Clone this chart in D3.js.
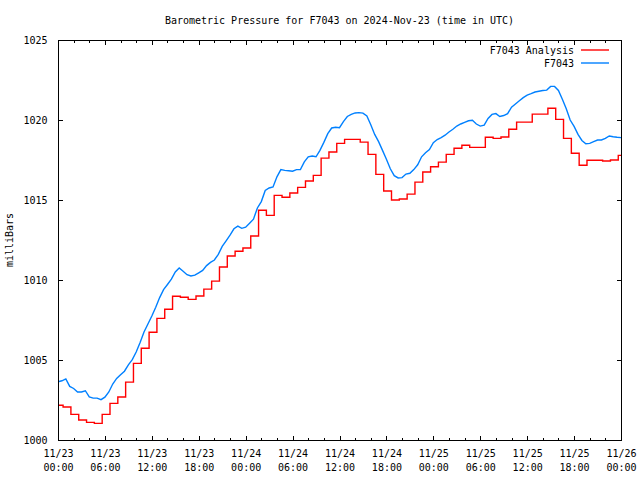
<!DOCTYPE html>
<html>
<head>
<meta charset="utf-8">
<script src="https://cdn.jsdelivr.net/npm/d3@7"></script>
<style>
  html, body { margin: 0; padding: 0; background: #fff; }
  svg { display: block; }
  text { font-family: "DejaVu Sans Mono", "Liberation Mono", monospace; font-size: 10px; fill: #000; }
</style>
</head>
<body>
<svg id="chart" width="640" height="480"></svg>
<script>
// ---------------- DATA ----------------
const titleText = "Barometric Pressure for F7043 on 2024-Nov-23 (time in UTC)";
const yAxisTitle = "milliBars";
const seriesNames = ["F7043 Analysis", "F7043"];
const startTime = Date.UTC(2024, 10, 23, 0, 0);
const endTime = Date.UTC(2024, 10, 26, 0, 0);
const yTickValues = [1000, 1005, 1010, 1015, 1020, 1025];

// F7043 observations, every 30 minutes from 2024-11-23 00:00 UTC
const stationPressure = [
  1003.64, 1003.70, 1003.82, 1003.35, 1003.22, 1003.00, 1003.00, 1003.08, 1002.70, 1002.62,
  1002.62, 1002.52, 1002.68, 1003.00, 1003.50, 1003.85, 1004.08, 1004.30, 1004.70, 1005.02,
  1005.50, 1006.10, 1006.75, 1007.25, 1007.75, 1008.30, 1008.90, 1009.40, 1009.72, 1010.05,
  1010.50, 1010.75, 1010.55, 1010.33, 1010.25, 1010.30, 1010.45, 1010.60, 1010.90, 1011.10,
  1011.25, 1011.60, 1012.10, 1012.45, 1012.80, 1013.20, 1013.37, 1013.23, 1013.30, 1013.55,
  1013.80, 1014.50, 1014.90, 1015.60, 1015.75, 1015.82, 1016.45, 1016.90, 1016.85, 1016.83,
  1016.80, 1016.90, 1016.90, 1017.38, 1017.70, 1017.75, 1017.70, 1018.10, 1018.60, 1019.15,
  1019.50, 1019.55, 1019.52, 1019.90, 1020.22, 1020.35, 1020.44, 1020.46, 1020.43, 1020.25,
  1019.70, 1019.10, 1018.65, 1018.10, 1017.55, 1016.95, 1016.52, 1016.38, 1016.40, 1016.62,
  1016.67, 1016.90, 1017.20, 1017.70, 1017.95, 1018.15, 1018.58, 1018.78, 1018.90, 1019.05,
  1019.25, 1019.42, 1019.62, 1019.75, 1019.85, 1019.95, 1019.98, 1019.75, 1019.62, 1019.68,
  1020.10, 1020.35, 1020.40, 1020.22, 1020.28, 1020.40, 1020.80, 1021.00, 1021.20, 1021.40,
  1021.56, 1021.65, 1021.75, 1021.80, 1021.84, 1021.87, 1022.10, 1022.10, 1021.85, 1021.30,
  1020.70, 1020.00, 1019.60, 1019.10, 1018.72, 1018.52, 1018.54, 1018.65, 1018.75, 1018.75,
  1018.85, 1019.00, 1018.95, 1018.92, 1018.90
];
const stationStepMinutes = 30;

// F7043 Analysis, hourly values (each valid from HH-1:39 to HH:39)
const analysisPressure = [
  1002.17, 1002.06, 1001.60, 1001.25, 1001.10, 1001.04, 1001.60, 1002.29, 1002.69, 1003.62,
  1004.79, 1005.73, 1006.73, 1007.60, 1008.17, 1008.98, 1008.92, 1008.79, 1009.00, 1009.43,
  1009.93, 1010.81, 1011.50, 1011.80, 1012.00, 1012.75, 1014.36, 1014.04, 1015.29, 1015.17,
  1015.44, 1015.79, 1016.19, 1016.54, 1017.62, 1018.00, 1018.54, 1018.79, 1018.79, 1018.62,
  1017.85, 1016.60, 1015.56, 1015.00, 1015.06, 1015.37, 1016.12, 1016.75, 1017.08, 1017.37,
  1017.85, 1018.23, 1018.42, 1018.29, 1018.29, 1018.92, 1018.85, 1018.94, 1019.42, 1019.87,
  1019.87, 1020.37, 1020.37, 1020.73, 1020.04, 1018.85, 1017.92, 1017.17, 1017.48, 1017.48,
  1017.44, 1017.50, 1017.79
];
const analysisStepOffsetMinutes = -21;

const colors = { analysis: "#ff0000", station: "#0080ff" };

// ---------------- LAYOUT ----------------
const svg = d3.select("#chart");
const M = { left: 58, right: 621, top: 40, bottom: 440 };

const x = d3.scaleUtc().domain([startTime, endTime]).range([M.left, M.right]);
const y = d3.scaleLinear().domain([1000, 1025]).range([M.bottom, M.top]);

const MIN = 60000, HOUR = 3600000;
const stationData = stationPressure.map((v, i) => ({ t: startTime + i * stationStepMinutes * MIN, v }));
const analysisData = analysisPressure.map((v, i) => ({
  t: Math.max(startTime, startTime + i * HOUR + analysisStepOffsetMinutes * MIN), v
}));
analysisData.push({ t: endTime, v: analysisPressure[analysisPressure.length - 1] });

// title
svg.append("text")
  .attr("x", (M.left + M.right) / 2).attr("y", 24)
  .attr("text-anchor", "middle")
  .text(titleText);

// y axis title
svg.append("text")
  .attr("transform", `translate(13,${(M.top + M.bottom) / 2}) rotate(-90)`)
  .attr("text-anchor", "middle")
  .text(yAxisTitle);

// axes (ticks inward)
const majorTicks = d3.utcHour.every(6).range(startTime, endTime + 1);
const minorTicks = d3.utcHour.every(2).range(startTime, endTime + 1).filter(d => d.getUTCHours() % 6 !== 0);

function tickStyle(g) {
  g.select(".domain").remove();
  g.selectAll("line").attr("stroke", "#000").attr("shape-rendering", "crispEdges");
}

svg.append("g").attr("transform", `translate(0,${M.bottom})`)
  .call(d3.axisBottom(x).tickValues(minorTicks).tickSize(-2.5).tickFormat(""))
  .call(tickStyle);
svg.append("g").attr("transform", `translate(0,${M.top})`)
  .call(d3.axisTop(x).tickValues(minorTicks).tickSize(-2.5).tickFormat(""))
  .call(tickStyle);
svg.append("g").attr("transform", `translate(0,${M.top})`)
  .call(d3.axisTop(x).tickValues(majorTicks).tickSize(-4.5).tickFormat(""))
  .call(tickStyle);

const xAxis = svg.append("g").attr("transform", `translate(0,${M.bottom})`)
  .call(d3.axisBottom(x).tickValues(majorTicks).tickSize(-4.5).tickPadding(0)
    .tickFormat(d3.utcFormat("%m/%d")))
  .call(tickStyle);
xAxis.selectAll("text").each(function(d) {
  const t = d3.select(this);
  t.text(null).attr("y", 0).attr("dy", null)
    .style("font-family", null).style("font-size", null);
  t.append("tspan").attr("x", 0).attr("y", 17).text(d3.utcFormat("%m/%d")(d));
  t.append("tspan").attr("x", 0).attr("y", 31).text(d3.utcFormat("%H:%M")(d));
});
xAxis.attr("font-family", null).attr("font-size", null);

const yAxis = svg.append("g").attr("transform", `translate(${M.left},0)`)
  .call(d3.axisLeft(y).tickValues(yTickValues).tickSize(-4.5).tickPadding(10.5)
    .tickFormat(d3.format("d")))
  .call(tickStyle);
yAxis.attr("font-family", null).attr("font-size", null);
yAxis.selectAll("text").attr("dy", "0.35em");

svg.append("g").attr("transform", `translate(${M.right},0)`)
  .call(d3.axisRight(y).tickValues(yTickValues).tickSize(-4.5).tickFormat(""))
  .call(tickStyle);

// lines
const clipId = "plotclip";
svg.append("clipPath").attr("id", clipId).append("rect")
  .attr("x", M.left).attr("y", M.top).attr("width", M.right - M.left).attr("height", M.bottom - M.top);

const plot = svg.append("g").attr("clip-path", `url(#${clipId})`);

plot.append("path").datum(stationData)
  .attr("fill", "none").attr("stroke", colors.station).attr("stroke-width", 1.4)
  .attr("stroke-linejoin", "miter")
  .attr("d", d3.line().x(d => x(d.t)).y(d => y(d.v)));

plot.append("path").datum(analysisData)
  .attr("fill", "none").attr("stroke", colors.analysis).attr("stroke-width", 1.4)
  .attr("d", d3.line().x(d => x(d.t)).y(d => y(d.v)).curve(d3.curveStepAfter));

// frame
svg.append("rect")
  .attr("x", M.left + 0.5).attr("y", M.top + 0.5)
  .attr("width", M.right - M.left).attr("height", M.bottom - M.top)
  .attr("fill", "none").attr("stroke", "#000").attr("stroke-width", 1)
  .attr("shape-rendering", "crispEdges");

// legend
const legend = svg.append("g");
[{ name: seriesNames[0], color: colors.analysis, yy: 50 },
 { name: seriesNames[1], color: colors.station, yy: 63 }].forEach(item => {
  legend.append("text").attr("x", 574).attr("y", item.yy).attr("dy", "0.35em")
    .attr("text-anchor", "end").text(item.name);
  legend.append("line").attr("x1", 581).attr("x2", 609)
    .attr("y1", item.yy).attr("y2", item.yy)
    .attr("stroke", item.color).attr("stroke-width", 1.4);
});
</script>
</body>
</html>
